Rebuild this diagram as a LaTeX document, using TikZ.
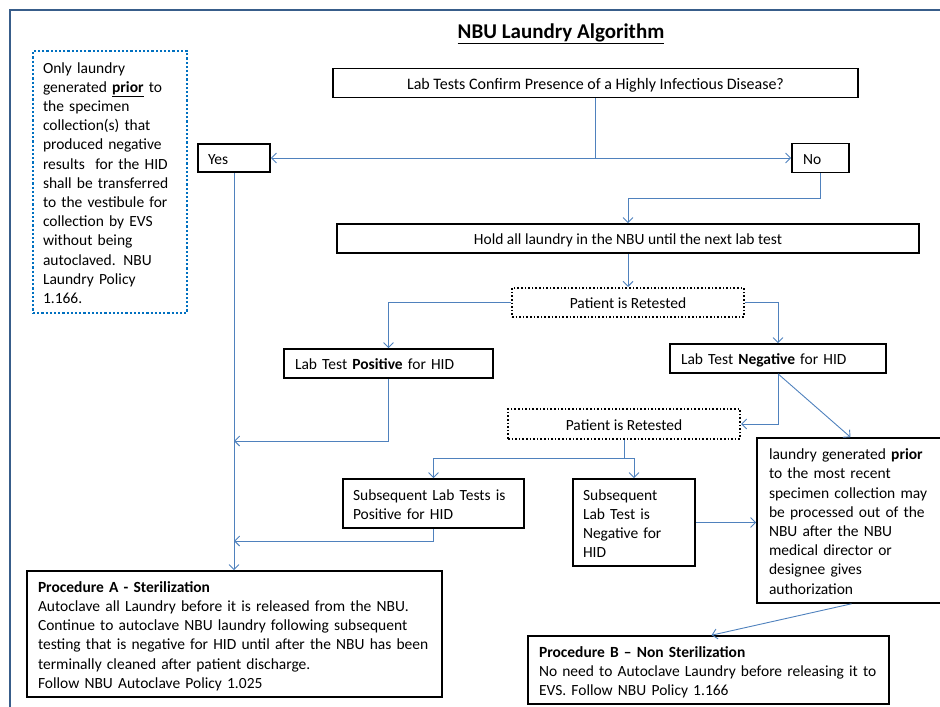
\documentclass[tikz,border=0pt]{standalone}
\usepackage{fontspec}
\setmainfont{Carlito}
\usetikzlibrary{arrows.meta}
\definecolor{frameblue}{RGB}{56,93,138}
\definecolor{lineblue}{RGB}{79,129,189}
\definecolor{dotblue}{RGB}{0,112,192}
\newcommand{\boxlines}[1]{\begin{tabular}{@{}l@{}}\rule{0pt}{18.4pt}#1\end{tabular}}
\newcommand{\cboxlines}[1]{\begin{tabular}{@{}c@{}}\rule{0pt}{18.4pt}#1\end{tabular}}
\tikzset{
  txt/.style={font=\fontsize{15.5}{19.2}\selectfont},
  box/.style={txt, draw=black, line width=1.6pt, inner ysep=0pt, inner xsep=0pt},
  lbox/.style={box, align=left},
  dbox/.style={box, dotted, line width=2pt},
  conn/.style={draw=lineblue, line width=0.9pt, -{Straight Barb[length=5pt,width=10pt]}},
  plainline/.style={draw=lineblue, line width=0.9pt},
}
\begin{document}
\begin{tikzpicture}[x=1pt,y=-1pt]
\useasboundingbox (0,0) rectangle (940,707);
\clip (0,0) rectangle (940,707);
\draw[frameblue, line width=2.6pt] (10,10) rectangle (990,760);

\node[font=\fontsize{21}{24}\selectfont] (title) at (561,34) {\underline{\textbf{NBU Laundry Algorithm}}};

\node[txt, draw=dotblue, dotted, line width=2.2pt, minimum width=154pt, minimum height=262pt, text width=134pt, inner xsep=10pt, inner ysep=0pt, align=left] (note) at (110,182)
 {\boxlines{Only laundry\\ generated \underline{\textbf{prior}} to\\ the specimen\\ collection(s) that\\ produced negative\\ results\ \ for the HID\\ shall be transferred\\ to the vestibule for\\ collection by EVS\\ without being\\ autoclaved. NBU\\ Laundry Policy\\ 1.166.}};

\node[box, font=\fontsize{16}{19.2}\selectfont, minimum width=525pt, minimum height=29pt] (Q) at (595.5,83) {\cboxlines{Lab Tests Confirm Presence of a Highly Infectious Disease?}};
\node[lbox, minimum width=72pt, minimum height=28pt, text width=52pt, inner xsep=10pt] (Yes) at (234,158) {\boxlines{Yes}};
\node[lbox, minimum width=57pt, minimum height=29pt, text width=35pt, inner xsep=11pt] (No) at (820.5,158) {\boxlines{No}};
\node[box, minimum width=582pt, minimum height=29pt] (Hold) at (628,238.5) {\cboxlines{Hold all laundry in the NBU until the next lab test}};
\node[dbox, minimum width=232pt, minimum height=29pt] (Ret1) at (628,302.5) {\cboxlines{Patient is Retested}};
\node[lbox, minimum width=209pt, minimum height=29pt, text width=187pt, inner xsep=11pt] (Pos) at (388.5,363.5) {\boxlines{Lab Test \textbf{Positive} for HID}};
\node[lbox, minimum width=216pt, minimum height=29pt, text width=194pt, inner xsep=11pt] (Neg) at (778,358.5) {\boxlines{Lab Test \textbf{Negative} for HID}};
\node[dbox, minimum width=232pt, minimum height=30pt] (Ret2) at (624,424) {\cboxlines{Patient is Retested}};
\node[lbox, minimum width=181pt, minimum height=49pt, text width=161pt, inner xsep=10pt] (SubPos) at (433.5,503.5) {\boxlines{Subsequent Lab Tests is\\ Positive for HID}};
\node[lbox, minimum width=122pt, minimum height=87pt, text width=102pt, inner xsep=10pt] (SubNeg) at (634,522.5) {\boxlines{Subsequent\\ Lab Test is\\ Negative for\\ HID}};
\node[lbox, minimum width=195pt, minimum height=165pt, text width=171pt, inner xsep=12pt] (Right) at (854.5,520.5) {\boxlines{laundry generated \textbf{prior}\\ to the most recent\\ specimen collection may\\ be processed out of the\\ NBU after the NBU\\ medical director or\\ designee gives\\ authorization}};
\node[lbox, minimum width=415pt, minimum height=126pt, text width=393pt, inner xsep=11pt] (ProcA) at (234.5,634) {\boxlines{\textbf{Procedure A - Sterilization}\\ Autoclave all Laundry before it is released from the NBU.\\ Continue to autoclave NBU laundry following subsequent\\ testing that is negative for HID until after the NBU has been\\ terminally cleaned after patient discharge.\\ Follow NBU Autoclave Policy 1.025}};
\node[lbox, minimum width=361pt, minimum height=68pt, text width=339pt, inner xsep=11pt] (ProcB) at (708.5,670) {\boxlines{\textbf{Procedure B – Non Sterilization}\\ No need to Autoclave Laundry before releasing it to\\ EVS. Follow NBU Policy 1.166}};

\coordinate (qs) at (Q.south |- 0,158);
\draw[plainline] (Q.south) -- (qs);
\draw[conn] (qs) -- (Yes.east);
\draw[conn] (qs) -- (No.west);
\draw[conn] (No.south) -- (No.south |- 0,198) -| (Hold.north);
\draw[conn] (Hold.south) -- (Ret1.north);
\draw[conn] (Ret1.west) -| (Pos.north);
\draw[conn] (Ret1.east) -| (Neg.north);
\draw[conn] (Yes.south) -- (Yes.south |- ProcA.north);
\draw[conn] (Pos.south) |- (Yes.south |- 0,441);
\draw[conn] (Neg.south) |- (Ret2.east);
\draw[conn] (Neg.south) -- ([xshift=-4pt]Right.north);
\coordinate (r2s) at (Ret2.south |- 0,458);
\draw[plainline] (Ret2.south) -- (r2s);
\draw[conn] (r2s) -| (SubPos.north);
\draw[conn] (r2s) -| (SubNeg.north);
\draw[conn] (SubPos.south) |- (Yes.south |- 0,541);
\draw[conn] (SubNeg.east) -- (SubNeg.east -| Right.west);
\draw[conn] ([xshift=-3pt]Right.south) -- ([xshift=3pt]ProcB.north);
\end{tikzpicture}
\end{document}
